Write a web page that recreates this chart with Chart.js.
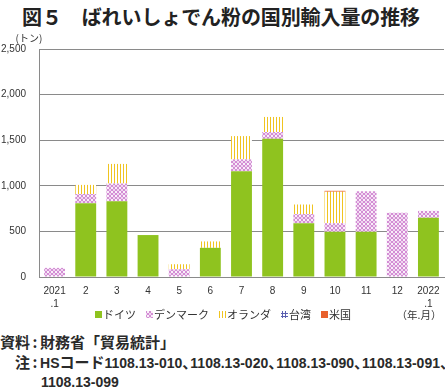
<!DOCTYPE html>
<html lang="ja">
<head>
<meta charset="utf-8">
<script src="https://cdn.jsdelivr.net/npm/chart.js@4.4.0/dist/chart.umd.min.js"></script>
<style>
    body { margin: 0; width: 445px; height: 388px; background: #fff; position: relative; overflow: hidden;
           font-family: "Noto Sans CJK JP", sans-serif; color: #222; }
    #title { position: absolute; left: 22px; top: 2px; font-size: 20px; font-weight: bold; white-space: nowrap; letter-spacing: -0.1px; }
    #chart-box { position: absolute; left: 0; top: 28px; }
    .note { position: absolute; height: 20px; line-height: 20px; font-size: 15px; font-weight: bold; white-space: nowrap; color: #2a2a2a; }
    .note .lat { font-family: "Liberation Sans", sans-serif; font-size: 14px; }
    .note .colon { display: inline-block; width: 10px; text-align: center; }
    .note .comma { margin-right: -7px; }
</style>
</head>
<body>
<div id="title">図５　ばれいしょでん粉の国別輸入量の推移</div>
<div id="chart-box"><canvas id="importChart" width="445" height="300"></canvas></div>
<div class="note" style="left:0; top:332px;">資料<span class="colon">:</span>財務省「貿易統計」</div>
<div class="note" style="left:15px; top:352px;">注<span class="colon">:</span><span class="lat">HS</span>コード<span class="lat">1108.13-010</span><span class="comma">、</span><span class="lat">1108.13-020</span><span class="comma">、</span><span class="lat">1108.13-090</span><span class="comma">、</span><span class="lat">1108.13-091</span><span class="comma">、</span></div>
<div class="note" style="left:41px; top:371px;"><span class="lat">1108.13-099</span></div>

<script>
// Months (2021.1 - 2022.1)
const months = [['2021', '.1'], '2', '3', '4', '5', '6', '7', '8', '9', '10', '11', '12', ['2022', '.1']];

// Import volume by country (tons)
const germany     = [0, 810, 830, 460, 0, 320, 1160, 1515, 590, 495, 495, 0, 650];
const denmark     = [100, 100, 195, 0, 85, 0, 130, 75, 100, 95, 445, 705, 75];
const netherlands = [0, 100, 215, 0, 55, 70, 255, 165, 105, 345, 0, 0, 0];
const taiwan      = [0, 0, 0, 0, 0, 0, 0, 0, 0, 0, 0, 0, 0];
const usa         = [0, 0, 0, 0, 0, 0, 0, 0, 0, 10, 0, 0, 0];

const yTicks = [0, 500, 1000, 1500, 2000, 2500];

// Small helper to build fill patterns for the hatched series
function makePattern(w, h, draw) {
    const c = document.createElement('canvas');
    c.width = w;
    c.height = h;
    const g = c.getContext('2d');
    g.fillStyle = '#ffffff';
    g.fillRect(0, 0, w, h);
    draw(g);
    return document.getElementById('importChart').getContext('2d').createPattern(c, 'repeat');
}

const denmarkFill = makePattern(4, 4, g => {
    g.strokeStyle = '#cc7acd';
    g.lineWidth = 1;
    g.beginPath();
    g.arc(2, 2, 1.5, 0, Math.PI * 2);
    g.stroke();
});

const netherlandsFill = makePattern(3, 2, g => {
    g.fillStyle = '#f0c420';
    g.fillRect(0, 0, 1, 2);
});

const taiwanFill = makePattern(3, 3, g => {
    g.fillStyle = '#5a5fb0';
    g.fillRect(0, 0, 1, 3);
    g.fillRect(0, 0, 3, 1);
});

// Legend row + unit labels "(トン)" and "（年.月）"
const legendRow = {
    id: 'legendRow',
    afterDraw(chart) {
        const ctx = chart.ctx;
        const area = chart.chartArea;
        const rowY = 287;
        ctx.save();
        ctx.fillStyle = '#333';
        ctx.textBaseline = 'middle';

        ctx.font = '10px "Noto Sans CJK JP"';
        ctx.textAlign = 'center';
        ctx.fillText('(トン)', area.left - 10, area.top - 11);

        ctx.font = '10.5px "Noto Sans CJK JP"';
        ctx.fillText('（年.月）', area.right - 25, rowY);

        // legend items
        ctx.textAlign = 'left';
        ctx.font = '11px "Noto Sans CJK JP"';
        let x = 95;
        chart.data.datasets.forEach(ds => {
            ctx.fillStyle = ds.backgroundColor;
            ctx.fillRect(x, rowY - 4, 7, 7);
            x += 8;
            ctx.fillStyle = '#333';
            ctx.fillText(ds.label, x, rowY);
            x += ctx.measureText(ds.label).width + 10;
        });
        ctx.restore();
    }
};

const ctx = document.getElementById('importChart').getContext('2d');
const importChart = new Chart(ctx, {
    type: 'bar',
    data: {
        labels: months,
        datasets: [
            { label: 'ドイツ', data: germany, backgroundColor: '#8fc31f' },
            { label: 'デンマーク', data: denmark, backgroundColor: denmarkFill },
            { label: 'オランダ', data: netherlands, backgroundColor: netherlandsFill },
            { label: '台湾', data: taiwan, backgroundColor: taiwanFill },
            { label: '米国', data: usa, backgroundColor: '#e8602c' }
        ]
    },
    options: {
        responsive: false,
        animation: false,
        layout: {
            padding: { top: 21, right: 1, left: 0, bottom: 17 }
        },
        datasets: {
            bar: { categoryPercentage: 1, barPercentage: 0.67, borderWidth: 0 }
        },
        scales: {
            x: {
                stacked: true,
                grid: { display: false, drawTicks: false },
                border: { color: '#8a8a8a', width: 1 },
                afterFit: axis => {
                    axis.height = 34;
                    axis.paddingLeft = 0;
                    axis.paddingRight = 0;
                },
                ticks: {
                    color: '#333',
                    padding: 8,
                    maxRotation: 0,
                    autoSkip: false,
                    font: { family: '"Liberation Sans"', size: 10, lineHeight: 1.3 }
                }
            },
            y: {
                stacked: true,
                min: 0,
                max: 2500,
                afterBuildTicks: axis => { axis.ticks = yTicks.map(v => ({ value: v })); },
                afterFit: axis => { axis.width = 39; },
                grid: { color: '#8a8a8a', lineWidth: 1, drawTicks: false },
                border: { color: '#8a8a8a', width: 1 },
                ticks: {
                    color: '#333',
                    padding: 13,
                    font: { family: '"Liberation Sans"', size: 10 },
                    callback: v => v.toLocaleString('en-US')
                }
            }
        },
        plugins: {
            tooltip: { enabled: false },
            legend: { display: false }
        }
    },
    plugins: [legendRow]
});
</script>
</body>
</html>
